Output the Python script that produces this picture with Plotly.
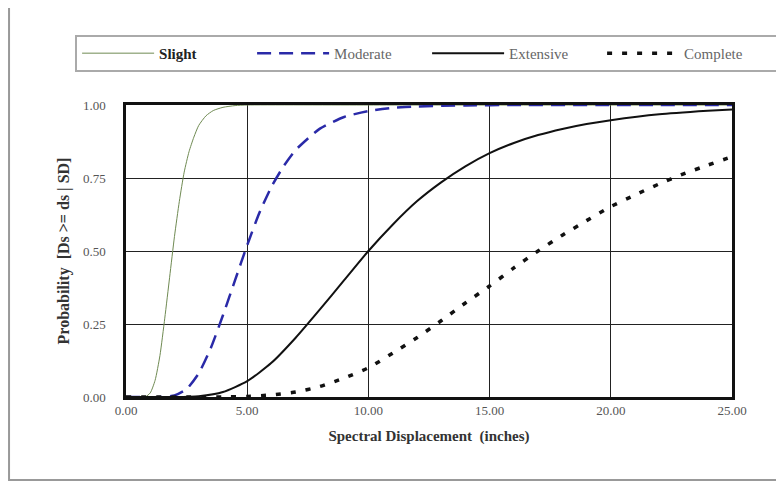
import plotly.graph_objects as go

# Slight
slight_x = [0.0, 0.8, 1.0, 1.2, 1.4, 1.6, 1.8, 2.0, 2.2, 2.4, 2.6, 2.8, 3.0, 3.3, 3.6, 4.0, 4.5, 5.0, 10.0, 15.0, 20.0, 25.0]
slight_y = [0.0, 0.001, 0.014, 0.057, 0.142, 0.27, 0.41, 0.55, 0.67, 0.77, 0.84, 0.89, 0.93, 0.963, 0.981, 0.992, 0.998, 1.0, 1.0, 1.0, 1.0, 1.0]
# Moderate
moderate_x = [0.0, 1.5, 2.0, 2.5, 3.0, 3.5, 4.0, 4.5, 5.0, 5.5, 6.0, 6.5, 7.0, 8.0, 9.0, 10.0, 11.0, 12.0, 14.0, 16.0, 20.0, 25.0]
moderate_y = [0.0, 0.0, 0.005, 0.027, 0.081, 0.168, 0.28, 0.40, 0.52, 0.63, 0.72, 0.79, 0.846, 0.919, 0.959, 0.979, 0.99, 0.995, 0.9987, 1.0, 1.0, 1.0]
# Extensive
extensive_x = [0.0, 2.0, 3.0, 4.0, 5.0, 6.0, 7.0, 8.0, 9.0, 10.0, 11.0, 12.0, 13.0, 14.0, 15.0, 16.0, 17.0, 18.0, 19.0, 20.0, 22.0, 24.0, 25.0]
extensive_y = [0.0, 0.0, 0.003, 0.017, 0.054, 0.117, 0.203, 0.30, 0.40, 0.50, 0.59, 0.67, 0.735, 0.79, 0.835, 0.87, 0.897, 0.918, 0.935, 0.948, 0.968, 0.98, 0.985]
# Complete
complete_x = [0.0, 4.0, 5.0, 6.0, 7.0, 8.0, 9.0, 10.0, 11.0, 12.0, 13.0, 14.0, 15.0, 16.0, 17.0, 18.0, 19.0, 20.0, 21.0, 22.0, 23.0, 24.0, 25.0]
complete_y = [0.0, 0.0, 0.002, 0.007, 0.017, 0.036, 0.065, 0.10, 0.15, 0.203, 0.261, 0.322, 0.38, 0.442, 0.50, 0.554, 0.604, 0.652, 0.692, 0.73, 0.764, 0.794, 0.823]

x_ticks = [0, 5, 10, 15, 20, 25]
y_ticks = [0, 0.25, 0.5, 0.75, 1.0]

FONT = "Liberation Serif"

fig = go.Figure()
fig.add_trace(go.Scatter(x=slight_x, y=slight_y, mode="lines", name="<b><span style='color:#222222'>Slight</span></b>",
                         line=dict(color="#6f8a52", width=1, shape="spline", smoothing=0.6)))
fig.add_trace(go.Scatter(x=moderate_x, y=moderate_y, mode="lines", name="Moderate",
                         line=dict(color="#2a2aa8", width=2.5, dash="14px,8px", shape="spline", smoothing=0.6)))
fig.add_trace(go.Scatter(x=extensive_x, y=extensive_y, mode="lines", name="Extensive",
                         line=dict(color="#111111", width=2, shape="spline", smoothing=0.6)))
fig.add_trace(go.Scatter(x=complete_x, y=complete_y, mode="lines", name="Complete",
                         line=dict(color="#111111", width=3.5, dash="5px,10px", shape="spline", smoothing=0.6)))

# outer chart frame
fig.add_shape(type="rect", xref="paper", yref="paper", x0=-0.193, x1=1.2, y0=-0.284, y1=1.339,
              line=dict(color="#999999", width=2), layer="below")

fig.update_layout(
    width=784, height=485,
    margin=dict(l=118, r=60, t=97, b=96),
    paper_bgcolor="white", plot_bgcolor="white",
    font=dict(family=FONT, size=13, color="#555555"),
    showlegend=True,
    legend=dict(orientation="h", x=-0.084, y=1.24, xanchor="left", yanchor="top",
                bgcolor="white", bordercolor="#aaaaaa", borderwidth=2,
                entrywidth=88, font=dict(family=FONT, size=15, color="#666666"),
                itemwidth=72),
    xaxis=dict(range=[0, 25], tickvals=x_ticks, tickformat=".2f",
               showgrid=True, gridcolor="#222222", gridwidth=1,
               showline=True, linecolor="#111111", linewidth=2.5, mirror=True,
               ticks="", zeroline=False, ticklabelstandoff=0,
               tickfont=dict(family=FONT, size=13, color="#555555"),
               title=dict(text="<b>Spectral Displacement  (inches)</b>",
                          font=dict(family=FONT, size=15, color="#333333"), standoff=14)),
    yaxis=dict(range=[0, 1], tickvals=y_ticks, tickformat=".2f",
               showgrid=True, gridcolor="#222222", gridwidth=1,
               showline=True, linecolor="#111111", linewidth=2.5, mirror=True,
               ticks="", zeroline=False, ticklabelstandoff=15,
               tickfont=dict(family=FONT, size=13, color="#555555"),
               title=dict(text="<b>Probability  [Ds >= ds | SD]</b>",
                          font=dict(family=FONT, size=16, color="#333333"), standoff=10)),
)

fig.write_html("out.html")
